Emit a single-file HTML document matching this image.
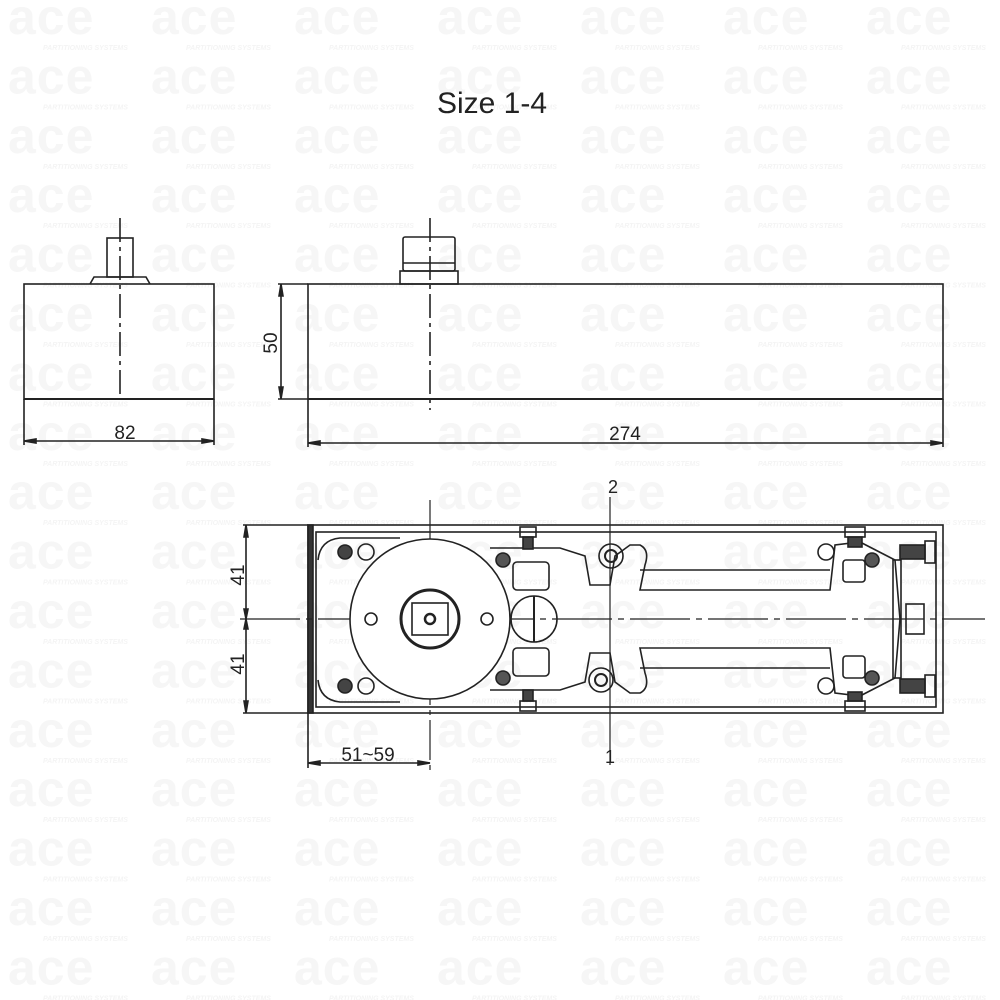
<!DOCTYPE html>
<html><head><meta charset="utf-8"><style>
html,body{margin:0;padding:0;background:#fff;}
svg{display:block;}
.wm{font-family:"Liberation Sans",sans-serif;font-weight:bold;font-size:50px;fill:#f6f6f6;letter-spacing:1px}
.ws{font-family:"Liberation Sans",sans-serif;font-weight:bold;font-style:italic;font-size:7px;fill:#f4f4f4}
.t{font-family:"Liberation Sans",sans-serif;fill:#222}
</style></head><body>
<svg width="1000" height="1000" viewBox="0 0 1000 1000" xmlns="http://www.w3.org/2000/svg">
<g>
<defs><g id="w"><text class="wm" x="0" y="34">ace</text><text class="ws" x="35" y="50">PARTITIONING SYSTEMS</text></g></defs>
<g id="row"><use href="#w" x="8"/><use href="#w" x="151"/><use href="#w" x="294"/><use href="#w" x="437"/><use href="#w" x="580"/><use href="#w" x="723"/><use href="#w" x="866"/></g>
<use href="#row" y="59.4"/><use href="#row" y="118.8"/><use href="#row" y="178.2"/><use href="#row" y="237.6"/><use href="#row" y="297"/><use href="#row" y="356.4"/><use href="#row" y="415.8"/><use href="#row" y="475.2"/><use href="#row" y="534.6"/><use href="#row" y="594"/><use href="#row" y="653.4"/><use href="#row" y="712.8"/><use href="#row" y="772.2"/><use href="#row" y="831.6"/><use href="#row" y="891"/><use href="#row" y="950.4"/>
</g>

<text class="t" x="492" y="113" font-size="30" text-anchor="middle">Size 1-4</text>

<g stroke="#222" fill="none" stroke-width="1.6">
<!-- left end view -->
<rect x="24" y="284" width="190" height="115"/>
<line x1="24" y1="399" x2="214" y2="399" stroke-width="2"/>
<path d="M90 284 L94 277 L146 277 L150 284"/>
<rect x="107" y="238" width="26" height="39"/>
<line x1="120" y1="218" x2="120" y2="400" stroke-dasharray="24,5,4,5"/>
<line x1="24" y1="399" x2="24" y2="445"/><line x1="214" y1="399" x2="214" y2="445"/>
<line x1="24" y1="441" x2="214" y2="441"/>
<path d="M24 441 l12 -2 v4z M214 441 l-12 -2 v4z" fill="#222"/>

<!-- side view -->
<rect x="308" y="284" width="635" height="115"/>
<line x1="308" y1="399" x2="943" y2="399" stroke-width="2"/>
<rect x="403" y="237" width="52" height="34" rx="2"/>
<rect x="400" y="271" width="58" height="13"/>
<line x1="403" y1="263" x2="455" y2="263"/>
<line x1="430" y1="218" x2="430" y2="410" stroke-dasharray="24,5,4,5"/>
<line x1="278" y1="284" x2="308" y2="284"/><line x1="278" y1="399" x2="308" y2="399"/>
<line x1="281" y1="284" x2="281" y2="399"/>
<path d="M281 284 l-2 12 h4z M281 399 l-2 -12 h4z" fill="#222"/>
<line x1="308" y1="399" x2="308" y2="447"/><line x1="943" y1="399" x2="943" y2="447"/>
<line x1="308" y1="443" x2="943" y2="443"/>
<path d="M308 443 l12 -2 v4z M943 443 l-12 -2 v4z" fill="#222"/>

<!-- plan view -->
<rect x="308" y="525" width="635" height="188"/>
<rect x="308" y="525" width="5" height="188" fill="#333"/>
<rect x="316" y="532" width="620" height="175"/>
<line x1="243" y1="525" x2="308" y2="525"/><line x1="243" y1="713" x2="308" y2="713"/>
<line x1="246" y1="525" x2="246" y2="713"/>
<path d="M246 525 l-2 12 h4z M246 713 l-2 -12 h4z M246 619 l-2 -10 h4z M246 619 l-2 10 h4z" fill="#222"/>
<line x1="308" y1="713" x2="308" y2="768"/>
<line x1="308" y1="763" x2="430" y2="763"/>
<path d="M308 763 l12 -2 v4z M430 763 l-12 -2 v4z" fill="#222"/>
<line x1="240" y1="619" x2="985" y2="619" stroke-width="1.2" stroke-dasharray="60,6,6,6"/>
<line x1="430" y1="500" x2="430" y2="770" stroke-width="1.2" stroke-dasharray="40,5,5,5"/>
<line x1="610" y1="497" x2="610" y2="765" stroke-width="1.2"/>

<!-- left corner parts -->
<path d="M318 560 Q320 540 340 538 L400 538 M318 680 Q320 700 340 702 L400 702"/>
<circle cx="345" cy="552" r="7" fill="#444"/><circle cx="366" cy="552" r="8"/>
<circle cx="345" cy="686" r="7" fill="#444"/><circle cx="366" cy="686" r="8"/>
<!-- big circle -->
<circle cx="430" cy="619" r="80" fill="#fff"/>
<circle cx="430" cy="619" r="29" stroke-width="3"/>
<rect x="412" y="603" width="36" height="32"/>
<circle cx="430" cy="619" r="5" stroke-width="2.5"/>
<circle cx="371" cy="619" r="6"/><circle cx="487" cy="619" r="6"/>
<circle cx="534" cy="619" r="23"/>
<line x1="534" y1="596" x2="534" y2="642" stroke-width="2"/>
<!-- body casting -->
<path d="M490 548 L560 548 L585 556 L590 585 L610 585 L615 556 L630 545 L640 545 Q650 550 645 565 L640 590 L830 590 L835 545 L860 542 L895 560 L900 619 L895 678 L860 696 L835 693 L830 648 L640 648 L645 673 Q650 688 640 693 L630 693 L615 682 L610 653 L590 653 L585 682 L560 690 L490 690"/>
<path d="M640 570 L830 570 M640 668 L830 668"/>
<rect x="513" y="562" width="36" height="28" rx="4"/><rect x="513" y="648" width="36" height="28" rx="4"/>
<rect x="843" y="560" width="22" height="22" rx="3"/><rect x="843" y="656" width="22" height="22" rx="3"/>
<circle cx="503" cy="560" r="7" fill="#555"/><circle cx="503" cy="678" r="7" fill="#555"/>
<circle cx="872" cy="560" r="7" fill="#555"/><circle cx="872" cy="678" r="7" fill="#555"/>
<circle cx="611" cy="556" r="12"/><circle cx="611" cy="556" r="6" stroke-width="2"/>
<circle cx="601" cy="680" r="12"/><circle cx="601" cy="680" r="6" stroke-width="2"/>
<circle cx="826" cy="552" r="8"/><circle cx="826" cy="686" r="8"/>
<!-- bolts -->
<rect x="520" y="527" width="16" height="10"/><rect x="523" y="537" width="10" height="12" fill="#444"/>
<rect x="520" y="701" width="16" height="10"/><rect x="523" y="690" width="10" height="11" fill="#444"/>
<rect x="845" y="527" width="20" height="10"/><rect x="848" y="537" width="14" height="10" fill="#444"/>
<rect x="845" y="701" width="20" height="10"/><rect x="848" y="692" width="14" height="9" fill="#444"/>
<rect x="900" y="545" width="25" height="14" fill="#444"/><rect x="925" y="541" width="10" height="22"/>
<rect x="900" y="679" width="25" height="14" fill="#444"/><rect x="925" y="675" width="10" height="22"/>
<rect x="893" y="560" width="8" height="118"/>
<rect x="906" y="604" width="18" height="30"/>
</g>

<g class="t">
<text x="125" y="439" font-size="19" text-anchor="middle">82</text>
<text x="625" y="440" font-size="19" text-anchor="middle">274</text>
<text x="368" y="761" font-size="19" text-anchor="middle">51~59</text>
<text x="613" y="493" font-size="18" text-anchor="middle">2</text>
<text x="610" y="763" font-size="18" text-anchor="middle">1</text>
<text transform="translate(277,343) rotate(-90)" font-size="19" text-anchor="middle">50</text>
<text transform="translate(244,575) rotate(-90)" font-size="19" text-anchor="middle">41</text>
<text transform="translate(244,664) rotate(-90)" font-size="19" text-anchor="middle">41</text>
</g>
</svg>
</body></html>
